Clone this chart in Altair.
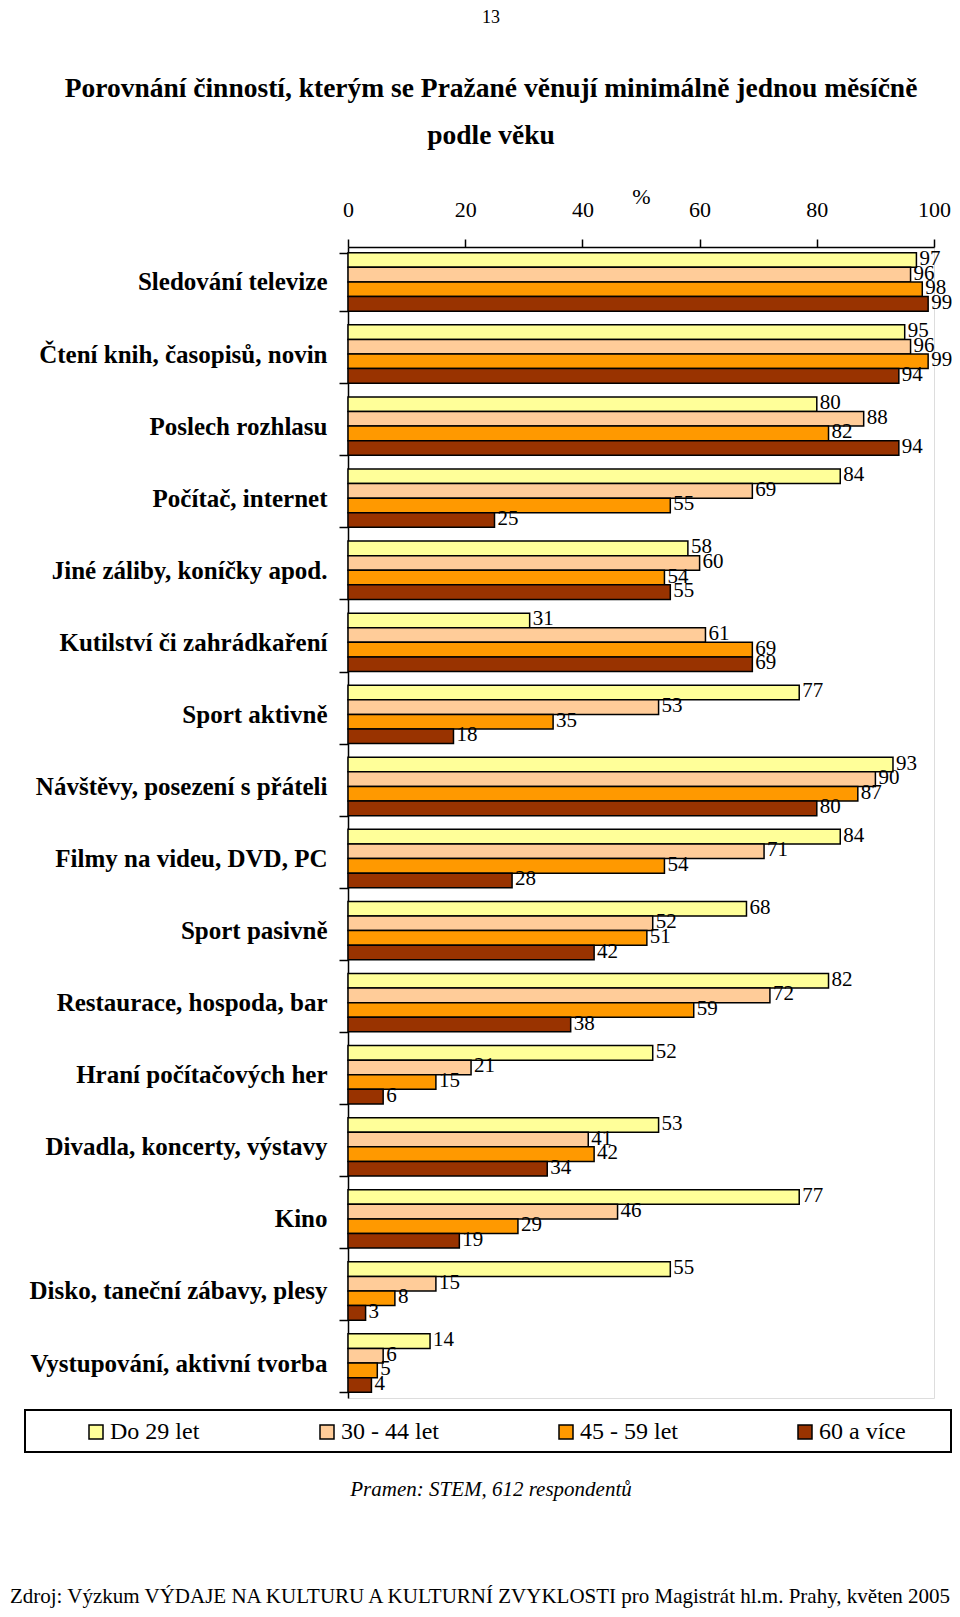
import altair as alt
import pandas as pd

categories = [
    "Sledování televize",
    "Čtení knih, časopisů, novin",
    "Poslech rozhlasu",
    "Počítač, internet",
    "Jiné záliby, koníčky apod.",
    "Kutilství či zahrádkaření",
    "Sport aktivně",
    "Návštěvy, posezení s přáteli",
    "Filmy na videu, DVD, PC",
    "Sport pasivně",
    "Restaurace, hospoda, bar",
    "Hraní počítačových her",
    "Divadla, koncerty, výstavy",
    "Kino",
    "Disko, taneční zábavy, plesy",
    "Vystupování, aktivní tvorba",
]
groups = ["Do 29 let", "30 - 44 let", "45 - 59 let", "60 a více"]
do_29 = [97, 95, 80, 84, 58, 31, 77, 93, 84, 68, 82, 52, 53, 77, 55, 14]
v_30_44 = [96, 96, 88, 69, 60, 61, 53, 90, 71, 52, 72, 21, 41, 46, 15, 6]
v_45_59 = [98, 99, 82, 55, 54, 69, 35, 87, 54, 51, 59, 15, 42, 29, 8, 5]
v_60 = [99, 94, 94, 25, 55, 69, 18, 80, 28, 42, 38, 6, 34, 19, 3, 4]
colors = ["#FFFF99", "#FFCC99", "#FF9900", "#993300"]

title_line1 = "Porovnání činností, kterým se Pražané věnují minimálně jednou měsíčně"
title_line2 = "podle věku"
page_number = "13"
source_note = "Pramen: STEM, 612 respondentů"
footer = "Zdroj: Výzkum VÝDAJE NA KULTURU A KULTURNÍ ZVYKLOSTI pro Magistrát hl.m. Prahy, květen 2005"

rows = []
for g, series in zip(groups, [do_29, v_30_44, v_45_59, v_60]):
    for c, v in zip(categories, series):
        rows.append({"Činnost": c, "Věk": g, "Hodnota": v})
df = pd.DataFrame(rows)

SERIF = "Liberation Serif"

y_enc = alt.Y(
    "Činnost:N",
    sort=categories,
    scale=alt.Scale(paddingInner=0.19, paddingOuter=0.08),
    axis=alt.Axis(
        title=None, tickBand="extent", labelFont=SERIF, labelFontWeight="bold",
        labelFontSize=25, labelColor="black", domainColor="black", tickColor="black",
        tickSize=9, labelPadding=12, labelLimit=400, domainWidth=1.5, tickWidth=1.5,
    ),
)
x_enc = alt.X(
    "Hodnota:Q",
    scale=alt.Scale(domain=[0, 100], nice=False),
    axis=alt.Axis(
        orient="top", values=[0, 20, 40, 60, 80, 100], title="%", titleX=293, titleY=-51,
        titleFont=SERIF, titleFontSize=22, titleFontWeight="normal", titleBaseline="middle",
        titleAlign="center", grid=False, tickSize=8, tickColor="black", tickWidth=1.5,
        domainColor="black", domainWidth=1.5, labelPadding=18, labelFontSize=22,
        labelFont=SERIF, labelColor="black", labelFlush=False,
    ),
)
yoff = alt.YOffset("Věk:N", sort=groups)

base = alt.Chart(df)
bars = base.mark_bar(stroke="black", strokeWidth=1.5).encode(
    x=x_enc,
    y=y_enc,
    yOffset=yoff,
    color=alt.Color(
        "Věk:N", sort=groups, scale=alt.Scale(domain=groups, range=colors),
        legend=alt.Legend(
            title=None, orient="none", legendX=-264, legendY=1173, direction="horizontal",
            columns=4, columnPadding=115, symbolType="square", symbolSize=196,
            symbolStrokeColor="black", symbolStrokeWidth=1.5, labelFont=SERIF,
            labelFontSize=24, labelColor="black", labelOffset=2, padding=0,
        ),
    ),
)
labels = base.mark_text(
    align="left", baseline="middle", dx=3, dy=-1, font=SERIF, fontSize=21, color="black"
).encode(x="Hodnota:Q", y=alt.Y("Činnost:N", sort=categories), yOffset=yoff, text="Hodnota:Q")

frame = alt.Chart(pd.DataFrame({"a": [0]})).mark_rect(
    fill="white", fillOpacity=0, stroke="black", strokeWidth=2
).encode(x=alt.value(-323), x2=alt.value(603), y=alt.value(1163), y2=alt.value(1205))

def text_layer(txt, x, y, size, weight="normal", style="normal"):
    return alt.Chart(pd.DataFrame({"t": [txt]})).mark_text(
        font=SERIF, fontSize=size, fontWeight=weight, fontStyle=style,
        color="black", baseline="middle", align="center"
    ).encode(x=alt.value(x), y=alt.value(y), text="t:N")

page = text_layer(page_number, 143, -229, 18)
t1 = text_layer(title_line1, 143, -158, 27.5, weight="bold")
t2 = text_layer(title_line2, 143, -111, 27.5, weight="bold")
note = text_layer(source_note, 143, 1243, 21, style="italic")
foot = text_layer(footer, 132, 1350, 21)

chart = alt.layer(frame, bars, labels, page, t1, t2, note, foot).properties(
    width=586,
    height=1151,
    autosize=alt.AutoSizeParams(type="none"),
    padding={"left": 340, "top": 239, "right": 18, "bottom": 211},
).configure_view(stroke=None).configure(background="white")

chart.save("out.html", embed_options={"renderer": "svg", "actions": False})
